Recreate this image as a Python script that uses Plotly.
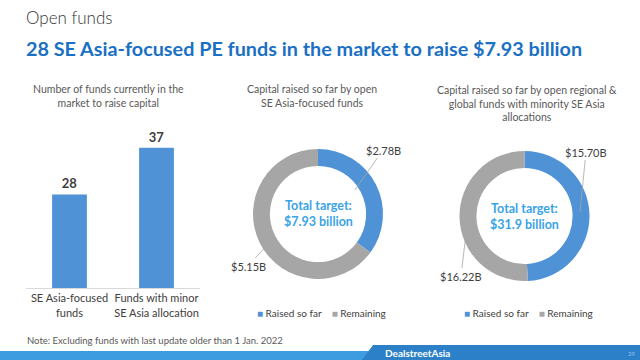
import plotly.graph_objects as go

W, H = 640, 360
def px(x): return x / W
def py(y): return 1 - y / H

# ---- data ----
bar_categories = ["SE Asia-focused<br>funds", "Funds with minor<br>SE Asia allocation"]
bar_values = [28, 37]

pie_labels = ["Raised so far", "Remaining"]
pie1_values = [2.78, 5.15]
pie1_target = 7.93
pie2_values = [15.70, 16.22]
pie2_target = 31.9

BLUE = "#4f93d6"
GRAY = "#a6a6a6"
TXT = "#404040"
FONT = "Lato"

fig = go.Figure()

fig.add_trace(go.Bar(
    x=bar_categories, y=bar_values, marker=dict(color=BLUE, line=dict(width=0)),
    text=[str(v) for v in bar_values], textposition="outside",
    textfont=dict(family=FONT, size=13, color=TXT, weight="bold"),
    cliponaxis=False, showlegend=False, width=0.4,
))

fig.add_trace(go.Pie(
    labels=pie_labels, values=pie1_values, hole=0.74, sort=False, direction="clockwise",
    marker=dict(colors=[BLUE, GRAY], line=dict(width=0)), textinfo="none",
    domain=dict(x=[px(253), px(383)], y=[py(280), py(148)]), showlegend=False, hoverinfo="label+value",
))
fig.add_trace(go.Pie(
    labels=pie_labels, values=pie2_values, hole=0.74, sort=False, direction="clockwise",
    marker=dict(colors=[BLUE, GRAY], line=dict(width=0)), textinfo="none",
    domain=dict(x=[px(459), px(590)], y=[py(281), py(151)]), showlegend=False, hoverinfo="label+value",
))

fig.update_layout(
    width=W, height=H, margin=dict(l=0, r=0, t=0, b=0, autoexpand=False),
    paper_bgcolor="white", plot_bgcolor="white",
    font=dict(family=FONT, color=TXT),
    xaxis=dict(domain=[px(26), px(200)], showline=True, linecolor="#d9d9d9", linewidth=1,
               ticks="", tickangle=0, automargin=False,
               tickfont=dict(family=FONT, size=11, color=TXT), showgrid=False),
    yaxis=dict(domain=[py(288), py(130)], range=[10, 40.4], visible=False, showgrid=False,
               automargin=False),
    bargap=0.6,
)

ann = []
def text(x, y, t, size, color=TXT, xanchor="center", yanchor="middle", weight="normal", align="center"):
    ann.append(dict(x=px(x), y=py(y), xref="paper", yref="paper", text=t, showarrow=False,
                    xanchor=xanchor, yanchor=yanchor, align=align,
                    font=dict(family=FONT, size=size, color=color, weight=weight)))

text(24, 17, "Open funds", 17, color="#333333", xanchor="left", weight=300)
text(24, 48, "28 SE Asia-focused PE funds in the market to raise $7.93 billion", 19.8,
     color="#1a70c4", xanchor="left", weight="bold")

text(108, 96, "Number of funds currently in the<br>market to raise capital", 10.5, color="#595959")
text(312, 96, "Capital raised so far by open<br>SE Asia-focused funds", 10.5, color="#595959")
text(527, 103, "Capital raised so far by open regional &amp;<br>global funds with minority SE Asia<br>allocations", 10.5, color="#595959")

text(318, 213, f"Total target:<br>${pie1_target:.2f} billion", 12.5, color="#3aa3e6", weight="bold")
text(524, 216, f"Total target:<br>${pie2_target:.1f} billion", 12.5, color="#3aa3e6", weight="bold")

def leader(tipx, tipy, tx, ty, t):
    ann.append(dict(x=px(tipx), y=py(tipy), xref="paper", yref="paper", text=t,
                    showarrow=True, arrowhead=0, arrowwidth=0.8, arrowcolor="#a6a6a6",
                    ax=tx - tipx, ay=ty - tipy, standoff=0,
                    font=dict(family=FONT, size=11, color=TXT)))

leader(355, 190, 383, 150, f"${pie1_values[0]:.2f}B")
leader(270, 242, 248, 266, f"${pie1_values[1]:.2f}B")
leader(580, 212, 586, 152, f"${pie2_values[0]:.2f}B")
leader(468, 217, 461, 276, f"${pie2_values[1]:.2f}B")

leg = (f'<span style="color:{BLUE}">■</span> {pie_labels[0]}&nbsp;&nbsp;&nbsp;&nbsp;'
       f'<span style="color:{GRAY}">■</span> {pie_labels[1]}')
text(321, 313, leg, 10)
text(528, 313, leg, 10)

text(25, 340, "Note: Excluding funds with last update older than 1 Jan. 2022", 9.5, color="#595959", xanchor="left")

fig.add_shape(type="rect", xref="paper", yref="paper", x0=0, x1=1, y0=0, y1=py(351),
              fillcolor="#3d9be0", line=dict(width=0), layer="below")
fig.add_shape(type="path", xref="paper", yref="paper",
              path=f"M {px(362)} 0 L {px(373)} {py(345)} L 1 {py(345)} L 1 0 Z",
              fillcolor="#2b80c8", line=dict(width=0), layer="below")
text(383, 353, "DealstreetAsia", 10, color="white", xanchor="left", weight="bold")
text(631, 353, "39", 6, color="#8fc0ea")

fig.update_layout(annotations=ann)
fig.write_html("out.html", config={"displayModeBar": False},
               post_script="document.body.style.margin='0';document.body.style.overflow='hidden';")
